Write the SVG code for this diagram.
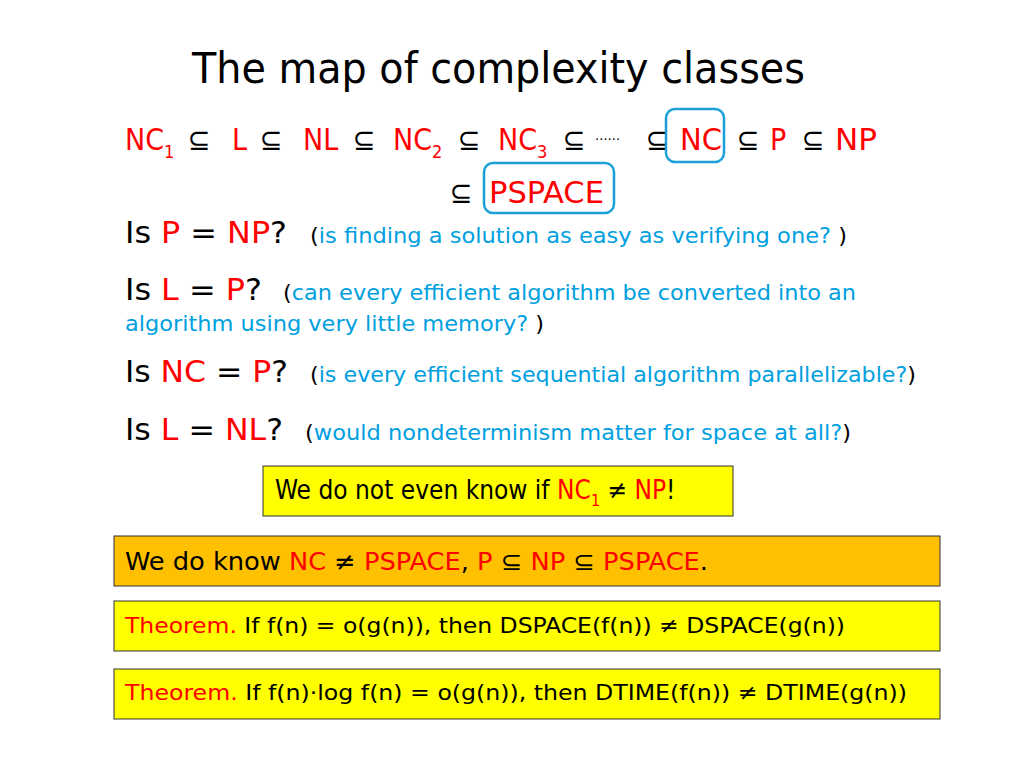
<svg xmlns="http://www.w3.org/2000/svg" width="1024" height="768" viewBox="0 0 1024 768">
<style>
text{font-family:"DejaVu Sans Condensed","DejaVu Sans",sans-serif;fill:#000}
.r{fill:#f00}.b{fill:#00a0e0}
.m{font-size:30px}.q{font-size:22px}
</style>
<rect width="1024" height="768" fill="#fff"/>
<text x="192" y="83" font-size="42" textLength="613" lengthAdjust="spacingAndGlyphs">The map of complexity classes</text>
<g id="chain" class="m">
<text x="125" y="150" class="r m">NC<tspan font-size="18" dy="8">1</tspan></text>
<text x="188" y="150" class="m">⊆</text>
<text x="232" y="150" class="r m">L</text>
<text x="260" y="150" class="m">⊆</text>
<text x="303" y="150" class="r m">NL</text>
<text x="353" y="150" class="m">⊆</text>
<text x="393" y="150" class="r m">NC<tspan font-size="18" dy="8">2</tspan></text>
<text x="458" y="150" class="m">⊆</text>
<text x="498" y="150" class="r m">NC<tspan font-size="18" dy="8">3</tspan></text>
<text x="563" y="150" class="m">⊆</text>
<text x="595" y="140" font-size="14">……</text>
<text x="646" y="150" class="m">⊆</text>
<text x="680" y="150" class="r m" textLength="42" lengthAdjust="spacingAndGlyphs">NC</text>
<text x="737" y="150" class="m">⊆</text>
<text x="770" y="150" class="r m">P</text>
<text x="802" y="150" class="m">⊆</text>
<text x="835" y="150" class="r m" textLength="42" lengthAdjust="spacingAndGlyphs">NP</text>
<text x="450" y="203" class="m">⊆</text>
<text x="489" y="203" class="r m" textLength="115" lengthAdjust="spacingAndGlyphs">PSPACE</text>
</g>
<g id="highlights" fill="none" stroke="#1ba1d8" stroke-width="2.5">
<rect x="666" y="109" width="58" height="53" rx="9"/>
<rect x="484" y="163" width="130" height="50" rx="9"/>
</g>
<g id="questions">
<text x="125" y="243" class="m" textLength="162" lengthAdjust="spacingAndGlyphs">Is <tspan class="r">P</tspan> = <tspan class="r">NP</tspan>?</text>
<text x="310" y="243" class="q" textLength="537" lengthAdjust="spacingAndGlyphs">(<tspan class="b">is finding a solution as easy as verifying one? </tspan>)</text>
<text x="125" y="300" class="m" textLength="137" lengthAdjust="spacingAndGlyphs">Is <tspan class="r">L</tspan> = <tspan class="r">P</tspan>?</text>
<text x="283" y="300" class="q" textLength="573" lengthAdjust="spacingAndGlyphs">(<tspan class="b">can every efficient algorithm be converted into an</tspan></text>
<text x="125" y="331" class="q" textLength="419" lengthAdjust="spacingAndGlyphs"><tspan class="b">algorithm using very little memory? </tspan>)</text>
<text x="125" y="382" class="m" textLength="163" lengthAdjust="spacingAndGlyphs">Is <tspan class="r">NC</tspan> = <tspan class="r">P</tspan>?</text>
<text x="310" y="382" class="q" textLength="606" lengthAdjust="spacingAndGlyphs">(<tspan class="b">is every efficient sequential algorithm parallelizable?</tspan>)</text>
<text x="125" y="440" class="m" textLength="158" lengthAdjust="spacingAndGlyphs">Is <tspan class="r">L</tspan> = <tspan class="r">NL</tspan>?</text>
<text x="305" y="440" class="q" textLength="546" lengthAdjust="spacingAndGlyphs">(<tspan class="b">would nondeterminism matter for space at all?</tspan>)</text>
</g>
<g id="box1"><rect x="263" y="466" width="470" height="50" fill="#ff0" stroke="#333"/>
<text x="275" y="499" font-size="26">We do not even know if <tspan class="r">NC<tspan font-size="16" dy="7">1</tspan></tspan><tspan dy="-7"> ≠ </tspan><tspan class="r">NP</tspan>!</text></g>
<g id="box2"><rect x="114" y="536" width="826" height="50" fill="#ffc000" stroke="#333"/>
<text x="125" y="570" font-size="25" textLength="583" lengthAdjust="spacingAndGlyphs">We do know <tspan class="r">NC</tspan> ≠ <tspan class="r">PSPACE</tspan>, <tspan class="r">P</tspan> ⊆ <tspan class="r">NP</tspan> ⊆ <tspan class="r">PSPACE</tspan>.</text></g>
<g id="box3"><rect x="114" y="601" width="826" height="50" fill="#ff0" stroke="#333"/>
<text x="125" y="633" font-size="22" textLength="720" lengthAdjust="spacingAndGlyphs"><tspan class="r">Theorem.</tspan> If f(n) = o(g(n)), then DSPACE(f(n)) ≠ DSPACE(g(n))</text></g>
<g id="box4"><rect x="114" y="669" width="826" height="50" fill="#ff0" stroke="#333"/>
<text x="125" y="700" font-size="22" textLength="782" lengthAdjust="spacingAndGlyphs"><tspan class="r">Theorem.</tspan> If f(n)·log f(n) = o(g(n)), then DTIME(f(n)) ≠ DTIME(g(n))</text></g>
</svg>
